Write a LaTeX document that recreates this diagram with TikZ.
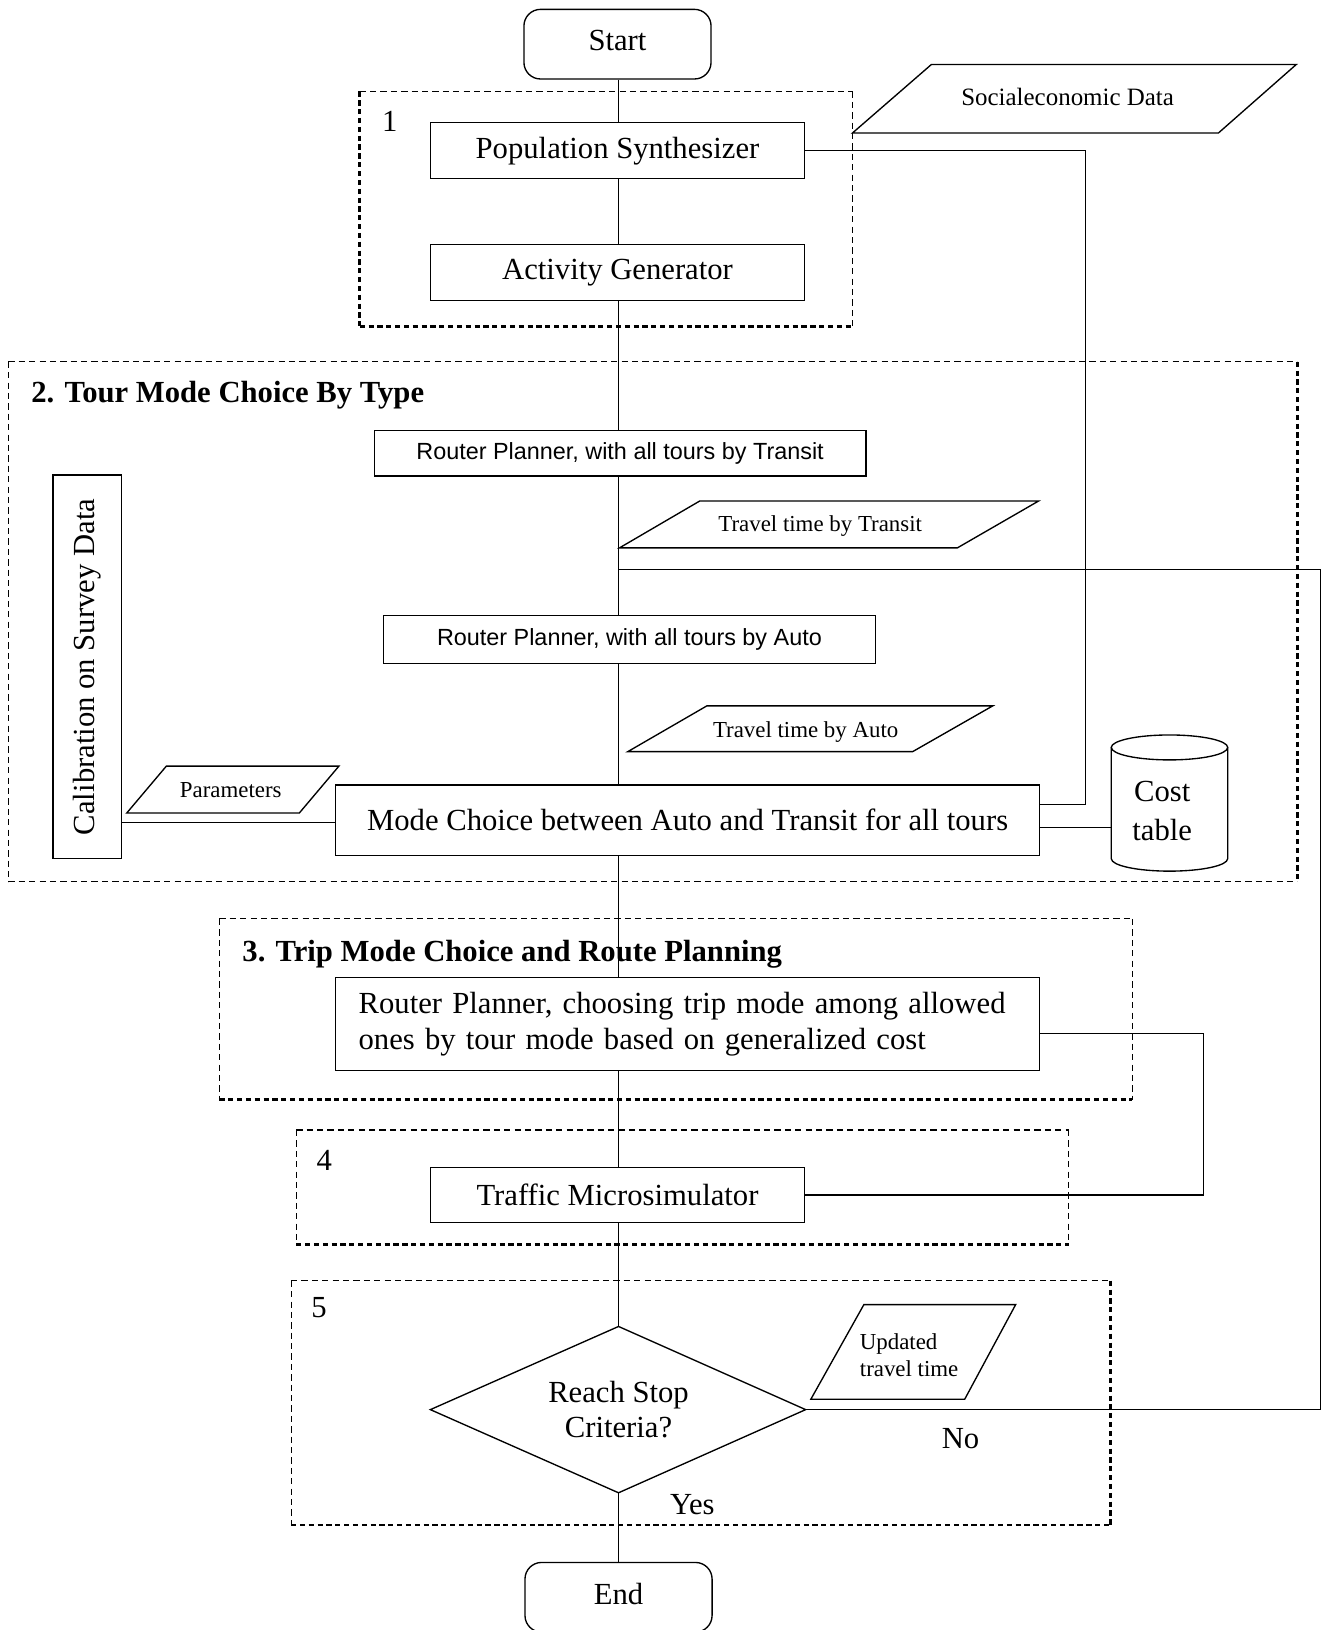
\documentclass[tikz,border=0pt]{standalone}
\usepackage{fontspec}
\setmainfont{Liberation Serif}
\setsansfont{Liberation Sans}
\usetikzlibrary{shapes.geometric}

\begin{document}
\begin{tikzpicture}[x=1pt,y=-1pt,
  every node/.style={inner sep=0pt},
  box/.style={draw, line width=1.3pt, rectangle},
  term/.style={draw, line width=1.3pt, rectangle, rounded corners=16pt},
  io/.style={draw, line width=1.3pt, line join=miter},
  link/.style={line width=1.2pt},
  thindash/.style={line width=1pt, dash pattern=on 6pt off 4pt},
  bolddash/.style={line width=2.6pt, dash pattern=on 5pt off 3.5pt},
  big/.style={font=\fontsize{29.5}{35}\selectfont},
  bigbold/.style={font=\fontsize{29.5}{35}\selectfont\bfseries},
  small/.style={font=\fontsize{22}{26}\selectfont},
  mid/.style={font=\fontsize{24}{28}\selectfont},
  sans/.style={font=\fontsize{22.5}{27}\selectfont\sffamily}
]
\useasboundingbox (0,0) rectangle (1271,1568);

% ---- group frames (dashed, some sides heavier) ----
% group 1
\draw[thindash] (346,88) -- (820,88);
\draw[thindash] (820,88) -- (820,314);
\draw[bolddash] (346,88) -- (346,314);
\draw[bolddash] (346,314) -- (820,314);
% group 2
\draw[thindash] (8,348) -- (1248,348);
\draw[thindash] (8,348) -- (8,848);
\draw[thindash] (8,848) -- (1248,848);
\draw[bolddash] (1248,348) -- (1248,848);
% group 3
\draw[thindash] (211,884) -- (1089,884);
\draw[thindash] (211,884) -- (211,1058);
\draw[thindash] (1089,884) -- (1089,1058);
\draw[bolddash] (211,1058) -- (1089,1058);
% group 4
\draw[thindash] (285,1087) -- (1028,1087);
\draw[thindash] (285,1087) -- (285,1197);
\draw[thindash] (1028,1087) -- (1028,1197);
\draw[bolddash] (285,1197) -- (1028,1197);
% group 5
\draw[thindash] (280,1232) -- (1068,1232);
\draw[thindash] (280,1232) -- (280,1467);
\draw[bolddash] (1068,1232) -- (1068,1467);
\draw[bolddash] (280,1467) -- (1068,1467);

% ---- group labels ----
\node[big] (g1) at (375,117) {1};
\node[bigbold, anchor=base west] (g2) at (30,387) {2. Tour Mode Choice By Type};
\node[bigbold, anchor=base west] (g3) at (233,925) {3. Trip Mode Choice and Route Planning};
\node[big] (g4) at (312,1116) {4};
\node[big] (g5) at (307,1258) {5};

% ---- process steps ----
\node[term, minimum width=180, minimum height=67] (start) at (594,42.5) {};
\node[big] (starttxt) at (594,39) {Start};
\node[box, big, minimum width=360, minimum height=54] (pop) at (594,145) {Population Synthesizer};
\node[box, big, minimum width=360, minimum height=54] (act) at (594,262) {Activity Generator};
\node[box, sans, minimum width=473, minimum height=44] (rt) at (596.5,436) {Router Planner, with all tours by Transit};
\node[box, sans, minimum width=473, minimum height=46] (ra) at (605.5,615) {Router Planner, with all tours by Auto};
\node[box, big, minimum width=677, minimum height=68] (mode) at (661.5,789) {Mode Choice between Auto and Transit for all tours};
\node[box, big, rotate=90, minimum width=369, minimum height=66] (calib) at (84,641.5) {Calibration on Survey Data};
\node[box, big, minimum width=677, minimum height=90, text width=633, align=left] (rp3) at (661.5,985)
  {Router Planner, choosing trip mode among allowed\\ones by tour mode based on generalized cost};
\node[box, big, minimum width=360, minimum height=53] (traffic) at (594,1149.5) {Traffic Microsimulator};

% decision: corners as named coordinates, text in the middle
\coordinate (dtop) at (595,1276);
\coordinate (dright) at (775,1356);
\coordinate (dbot) at (595,1436);
\coordinate (dleft) at (414,1356);
\draw[line width=1.3pt, line join=miter] (dtop) -- (dright) -- (dbot) -- (dleft) -- cycle;
\node[big, align=center] (dia) at (595,1356) {Reach Stop\\[-1pt]Criteria?};

\node[term, minimum width=180, minimum height=67] (end) at (595,1536.5) {};
\node[big] (endtxt) at (595,1533) {End};

% ---- data (parallelograms) ----
\draw[io] (896,62) -- (1247,62) -- (1172,128) -- (820,128) -- cycle;
\node[mid] (soc) at (1027,93) {Socialeconomic Data};
\draw[io] (673,482) -- (999,482) -- (921,527) -- (596,527) -- cycle;
\node[small] (ttt) at (789,506) {Travel time by Transit};
\draw[io] (680,679) -- (955,679) -- (878,723) -- (604,723) -- cycle;
\node[small] (tta) at (775,704) {Travel time by Auto};
\draw[io] (160,737) -- (326,737) -- (288,782) -- (122,782) -- cycle;
\node[small] (par) at (222,760) {Parameters};
\draw[io] (831,1255) -- (977,1255) -- (928,1346) -- (780,1346) -- cycle;
\node[small, anchor=west, align=left] (upd) at (827,1304) {Updated\\travel time};

% ---- cost table (cylinder) ----
\draw[line width=1.3pt] (1125,719) ellipse [x radius=56pt, y radius=12pt];
\draw[line width=1.3pt] (1069,719) -- (1069,826)
  arc [start angle=180, end angle=360, x radius=56pt, y radius=12pt] -- (1181,719);
\node[big, align=center] (cost) at (1118,780) {Cost\\[2pt]table};
\coordinate (cw) at (1069,796);

% ---- decision labels ----
\node[big] (no) at (924,1384) {No};
\node[big] (yes) at (666,1447) {Yes};

% ---- main flow ----
\coordinate (spine) at (595,0);
\draw[link] (start.south -| spine) -- (pop.north -| spine);
\draw[link] (pop.south -| spine) -- (act.north -| spine);
\draw[link] (act.south -| spine) -- (rt.north -| spine);
\draw[link] (rt.south -| spine) -- (ra.north -| spine);
\draw[link] (ra.south -| spine) -- (mode.north -| spine);
\draw[link] (mode.south -| spine) -- (rp3.north -| spine);
\draw[link] (rp3.south -| spine) -- (traffic.north -| spine);
\draw[link] (traffic.south -| spine) -- (dtop);
\draw[link] (dbot) -- (end.north -| spine);

% ---- side connections ----
\coordinate (popdrop) at (1044,774);
\draw[link] (pop.east) -| (popdrop) -- (popdrop -| mode.east);
\coordinate (tap) at (595,548);
\coordinate (fbr) at (1270,548);
\draw[link] (tap) -- (fbr) |- (dright);
\draw[link] (cw -| mode.east) -- (cw);
\coordinate (pm) at (117,791);
\draw[link] (pm -| calib.south) -- (pm -| mode.west);
\coordinate (r3) at (1158,994);
\draw[link] (r3 -| rp3.east) -- (r3) |- (traffic.east);
\end{tikzpicture}
\end{document}
